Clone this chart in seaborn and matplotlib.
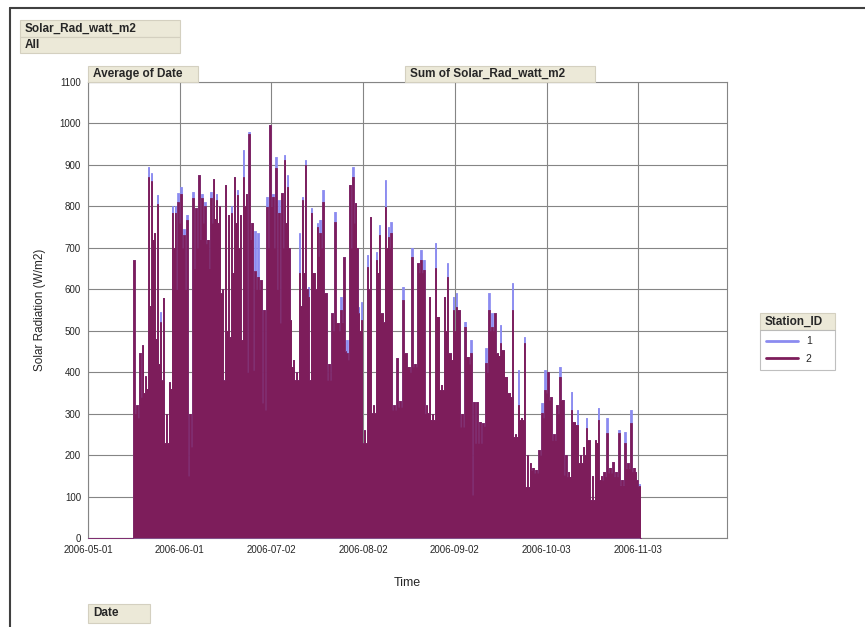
import numpy as np
import pandas as pd
import matplotlib.pyplot as plt
import matplotlib.dates as mdates
from matplotlib.patches import Rectangle
from matplotlib.lines import Line2D
import seaborn as sns

# Daily readings (W/m2) from 2006-05-16 to 2006-11-03
START_DATE = "2006-05-16"

st2_peak = [670, 320, 446, 465, 390, 870, 860, 736, 805, 520,
            580, 300, 376, 785, 785, 810, 830, 730, 767, 300,
            820, 795, 875, 820, 800, 720, 820, 866, 815, 800,
            600, 852, 780, 784, 871, 828, 780, 870, 830, 975,
            760, 643, 630, 622, 550, 799, 996, 823, 893, 785,
            832, 912, 847, 526, 430, 400, 640, 815, 900, 582,
            785, 640, 750, 736, 811, 591, 420, 542, 762, 519,
            550, 677, 446, 852, 871, 808, 542, 526, 260, 654,
            775, 320, 671, 731, 542, 799, 726, 736, 320, 434,
            330, 574, 446, 413, 678, 420, 663, 671, 647, 320,
            582, 300, 651, 534, 370, 582, 630, 446, 550, 557,
            550, 300, 510, 437, 446, 328, 328, 280, 277, 422,
            550, 509, 542, 446, 470, 453, 389, 350, 550, 250,
            321, 290, 470, 200, 181, 170, 165, 212, 302, 357,
            401, 340, 250, 321, 389, 333, 200, 160, 309, 280,
            273, 200, 220, 265, 236, 150, 236, 285, 150, 160,
            253, 170, 183, 160, 253, 140, 229, 180, 277, 170,
            140, 125]

st1_peak = [670, 320, 446, 465, 390, 895, 880, 736, 828, 545,
            580, 300, 376, 800, 800, 832, 847, 745, 780, 300,
            835, 795, 875, 830, 810, 720, 835, 866, 830, 800,
            600, 852, 780, 800, 871, 840, 780, 936, 830, 980,
            760, 740, 735, 622, 550, 823, 996, 830, 919, 815,
            832, 924, 875, 526, 430, 400, 735, 823, 912, 606,
            796, 640, 759, 768, 840, 591, 420, 542, 787, 519,
            582, 677, 478, 852, 895, 808, 557, 569, 260, 683,
            775, 320, 690, 755, 542, 863, 750, 762, 320, 434,
            330, 606, 446, 413, 700, 420, 663, 695, 671, 320,
            582, 300, 712, 534, 370, 582, 663, 446, 582, 591,
            550, 300, 522, 437, 478, 328, 328, 280, 277, 458,
            591, 542, 542, 446, 514, 453, 389, 350, 615, 250,
            405, 290, 485, 200, 181, 170, 165, 212, 326, 405,
            401, 340, 250, 321, 413, 333, 200, 160, 353, 280,
            309, 200, 220, 290, 236, 150, 236, 314, 150, 160,
            290, 170, 183, 160, 261, 140, 256, 180, 309, 170,
            140, 130]

valley = [300, 290, 340, 350, 360, 560, 720, 480, 420, 380,
          229, 229, 360, 700, 600, 760, 700, 600, 150, 220,
          650, 700, 720, 760, 710, 650, 760, 770, 760, 590,
          380, 500, 485, 640, 760, 700, 478, 800, 400, 720,
          405, 600, 600, 326, 309, 700, 800, 700, 600, 519,
          700, 760, 700, 413, 381, 381, 560, 640, 600, 381,
          640, 600, 680, 700, 591, 381, 381, 500, 519, 500,
          520, 450, 430, 700, 760, 700, 500, 229, 229, 600,
          301, 301, 640, 542, 520, 700, 700, 309, 309, 316,
          316, 446, 413, 400, 413, 413, 640, 640, 301, 301,
          285, 285, 534, 357, 357, 500, 446, 430, 500, 550,
          268, 268, 437, 420, 104, 229, 229, 229, 270, 400,
          500, 500, 446, 440, 453, 389, 350, 340, 244, 244,
          285, 285, 123, 123, 164, 157, 157, 200, 290, 350,
          333, 236, 236, 300, 333, 152, 148, 148, 280, 273,
          181, 181, 200, 236, 92, 92, 230, 140, 140, 148,
          157, 157, 148, 148, 127, 127, 168, 168, 160, 160,
          125, 0]

# flat zero stretch before the first reading
lead_dates = ["2006-05-01", "2006-05-16"]
lead_values = [0, 0]

x_ticks = ["2006-05-01", "2006-06-01", "2006-07-02", "2006-08-02",
           "2006-09-02", "2006-10-03", "2006-11-03"]
x_range = ["2006-05-01", "2006-12-03"]
y_ticks = list(range(0, 1101, 100))

colors = {"1": "#8b8bf0", "2": "#7d1d5b"}

W, H = 865, 627


def build_frame():
    days = np.arange(len(st2_peak))
    start = pd.Timestamp(START_DATE)
    t_peak = start + pd.to_timedelta(days + 0.5, unit="D")
    t_low = start + pd.to_timedelta(days + 1.0, unit="D")
    frames = []
    for sid, peaks in [("1", st1_peak), ("2", st2_peak)]:
        t = np.empty(2 * len(days), dtype="datetime64[ns]")
        v = np.empty(2 * len(days))
        t[0::2] = t_peak.values
        t[1::2] = t_low.values
        v[0::2] = peaks
        v[1::2] = valley
        t = np.concatenate([pd.to_datetime(lead_dates).values, t])
        v = np.concatenate([lead_values, v])
        frames.append(pd.DataFrame({"Time": t, "Solar": v, "Station_ID": sid}))
    return pd.concat(frames, ignore_index=True)


def beige_box(fig, x0, y0, x1, y1, text, size=8.5):
    fig.add_artist(Rectangle((x0 / W, 1 - y1 / H), (x1 - x0) / W, (y1 - y0) / H,
                             transform=fig.transFigure, facecolor="#ece9d8",
                             edgecolor="#d4d0c0", lw=0.8, zorder=5))
    fig.text((x0 + 5) / W, 1 - (y0 + y1) / 2 / H, text, ha="left", va="center",
             fontsize=size, fontweight="bold", zorder=6)


sns.set_style("white")
plt.rcParams["font.family"] = ["Liberation Sans", "DejaVu Sans"]

df = build_frame()

fig = plt.figure(figsize=(W / 100, H / 100), dpi=100)
ax = fig.add_axes([88 / W, 1 - 538 / H, (727 - 88) / W, (538 - 82) / H])

sns.lineplot(data=df, x="Time", y="Solar", hue="Station_ID", palette=colors,
             estimator=None, sort=False, drawstyle="steps-mid", linewidth=0.6, ax=ax)

for i, sid in enumerate(["1", "2"]):
    sub = df[df["Station_ID"] == sid]
    ax.fill_between(sub["Time"].values, 0, sub["Solar"].values, step="mid",
                    color=colors[sid], lw=0, zorder=2 + 2 * i)
    ax.lines[i].set_zorder(3 + 2 * i)
    ax.lines[i].set_clip_on(False)

ax.set_xlim(pd.to_datetime(x_range))
ax.set_ylim(0, 1100)
ax.set_yticks(y_ticks)
ax.set_xticks(pd.to_datetime(x_ticks))
ax.xaxis.set_major_formatter(mdates.DateFormatter("%Y-%m-%d"))

ax.set_axisbelow(True)
ax.grid(True, color="#858585", lw=0.8)
for s in ax.spines.values():
    s.set_color("#858585")
    s.set_linewidth(0.8)
    s.set_zorder(1)
ax.tick_params(axis="both", direction="out", length=3, width=0.8, color="#858585",
               labelsize=7, pad=2)

ax.set_xlabel("Time", fontsize=9, labelpad=16)
ax.set_ylabel("Solar Radiation (W/m2)", fontsize=8.5, labelpad=10)

# legend
handles, labels = ax.get_legend_handles_labels()
ax.get_legend().remove()
for h in handles:
    h.set_linewidth(2)
leg = fig.legend(handles, labels, loc="upper left",
                 bbox_to_anchor=(760 / W, 1 - 377 / H, 75 / W, 47 / H),
                 mode="expand", frameon=True, fancybox=False, fontsize=7.5,
                 handlelength=3, borderaxespad=0, borderpad=0.6, labelspacing=0.7)
leg.get_frame().set_edgecolor("#b0b0b0")
leg.get_frame().set_linewidth(0.8)
beige_box(fig, 760, 313, 835, 330, "Station_ID", size=8.5)

# pivot-table field boxes
beige_box(fig, 20, 20, 180, 37, "Solar_Rad_watt_m2")
beige_box(fig, 20, 37, 180, 53, "All")
beige_box(fig, 88, 66, 198, 82, "Average of Date")
beige_box(fig, 405, 66, 595, 82, "Sum of Solar_Rad_watt_m2")
beige_box(fig, 88, 604, 150, 623, "Date")

# outer frame
fig.add_artist(Line2D([10 / W, 10 / W], [0, 1 - 8 / H], transform=fig.transFigure,
                      color="#404040", lw=1.5))
fig.add_artist(Line2D([10 / W, 1], [1 - 8 / H, 1 - 8 / H], transform=fig.transFigure,
                      color="#404040", lw=1.5))

fig.savefig("out.png", dpi=100)
